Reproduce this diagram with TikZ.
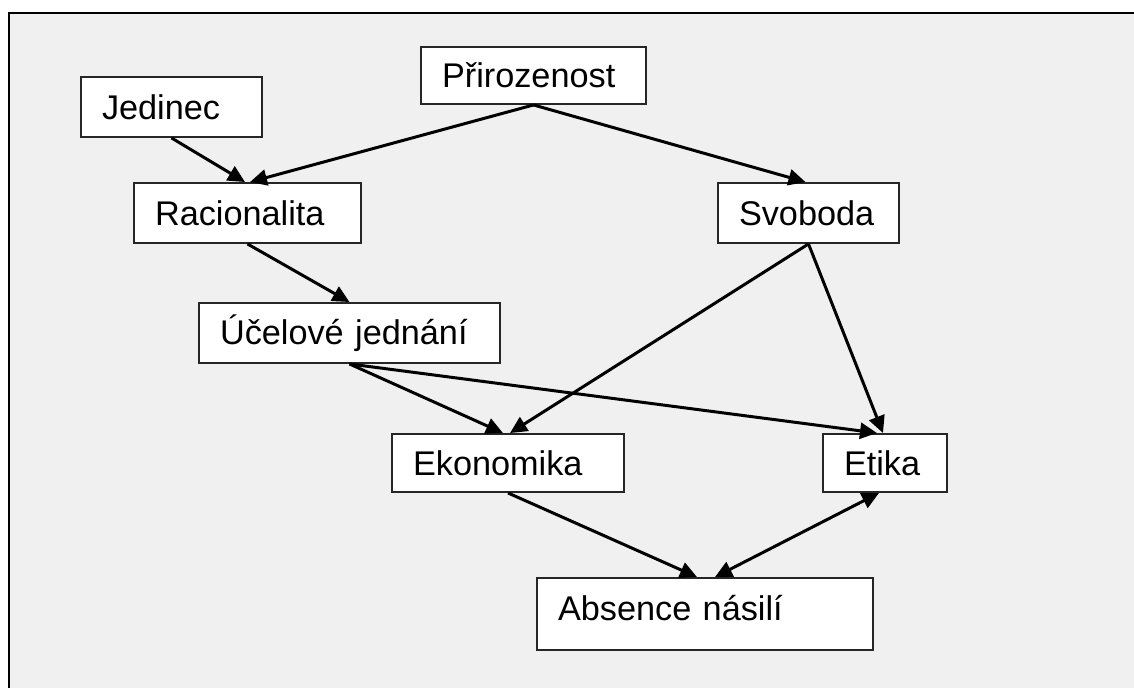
\documentclass[tikz,border=0pt]{standalone}
\usepackage{fontspec}
\setmainfont{Liberation Sans}
\usetikzlibrary{arrows.meta}

\begin{document}
\begin{tikzpicture}[x=0.02cm,y=-0.02cm,
    box/.style={draw=black!85, line width=1.1pt, fill=white, rectangle,
      inner xsep=0.42cm, align=left, font=\fontsize{19.5}{23}\selectfont},
    link/.style={line width=1.7pt, -{Triangle[length=0.34cm,width=0.32cm]}}]
    \useasboundingbox (0,0) rectangle (1134,688);
    % grey frame behind the diagram
    \draw[line width=1.4pt, fill={rgb,255:red,240;green,240;blue,240}] (9,13) rectangle (1160,720);

    \node[box, text width=2.78cm, minimum height=1.2cm]  (jed) at (171.5,107) {Jedinec};
    \node[box, text width=3.66cm, minimum height=1.14cm] (pri) at (533.5,75.5) {Přirozenost};
    \node[box, text width=3.70cm, minimum height=1.2cm]  (rac) at (247.5,213) {Racionalita};
    \node[box, text width=2.78cm, minimum height=1.2cm]  (svo) at (808.5,213) {Svoboda};
    \node[box, text width=5.18cm, minimum height=1.2cm]  (uce) at (349.5,333) {Účelové jednání};
    \node[box, text width=3.80cm, minimum height=1.16cm] (eko) at (508,463) {Ekonomika};
    \node[box, text width=1.64cm, minimum height=1.16cm] (eti) at (885,463) {Etika};
    \node[box, text width=5.88cm, minimum height=1.44cm] (abs) at (705,614) {\raisebox{0.24cm}{Absence násilí}};

    \path[link]%
      (jed.south) edge ([xshift=-0.05cm]rac.north)
      (pri.south) edge ([xshift=0.05cm]rac.north)
      (pri.south) edge ([xshift=-0.06cm]svo.north)
      (rac.south) edge (uce.north)
      (svo.south) edge ([xshift=0.04cm]eko.north)
      (svo.south) edge ([xshift=-0.04cm]eti.north)
      (uce.south) edge ([xshift=-0.1cm]eko.north)
      (uce.south) edge ([xshift=-0.16cm]eti.north)
      (eko.south) edge ([xshift=-0.16cm]abs.north);
    \draw[link, {Triangle[length=0.34cm,width=0.32cm]}-{Triangle[length=0.34cm,width=0.32cm]}]
      ([xshift=0.2cm]abs.north) -- ([xshift=-0.12cm]eti.south);
\end{tikzpicture}
\end{document}
